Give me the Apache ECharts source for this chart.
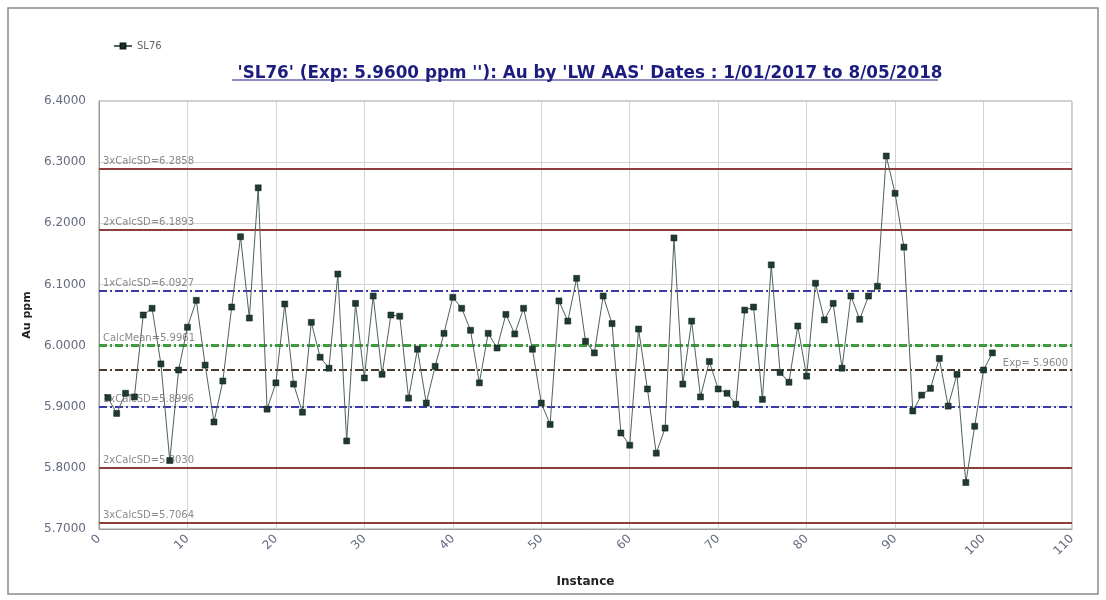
<!DOCTYPE html>
<html>
<head>
<meta charset="utf-8">
<script src="https://cdn.jsdelivr.net/npm/echarts@6/dist/echarts.min.js"></script>
<style>
  html, body { margin: 0; padding: 0; background: #ffffff; }
  #chart { width: 1106px; height: 600px; }
</style>
</head>
<body>
<div id="chart"></div>
<script>
// ---- data ----
const seriesName = 'SL76';
const titleText = "'SL76' (Exp: 5.9600 ppm ''): Au by 'LW AAS' Dates : 1/01/2017 to 8/05/2018";
const auValues = [
  5.915, 5.889, 5.922, 5.916, 6.050, 6.061, 5.970, 5.812, 5.960, 6.030,
  6.074, 5.968, 5.875, 5.942, 6.063, 6.178, 6.045, 6.258, 5.896, 5.939,
  6.068, 5.937, 5.891, 6.038, 5.981, 5.963, 6.117, 5.844, 6.069, 5.947,
  6.081, 5.953, 6.050, 6.048, 5.914, 5.994, 5.906, 5.966, 6.020, 6.079,
  6.061, 6.025, 5.939, 6.020, 5.996, 6.051, 6.019, 6.061, 5.994, 5.906,
  5.871, 6.073, 6.040, 6.110, 6.007, 5.988, 6.081, 6.036, 5.857, 5.837,
  6.027, 5.929, 5.824, 5.865, 6.176, 5.937, 6.040, 5.916, 5.974, 5.929,
  5.922, 5.904, 6.058, 6.063, 5.912, 6.132, 5.956, 5.940, 6.032, 5.950,
  6.102, 6.042, 6.069, 5.963, 6.081, 6.043, 6.081, 6.097, 6.310, 6.249,
  6.161, 5.893, 5.919, 5.930, 5.979, 5.901, 5.953, 5.776, 5.868, 5.960,
  5.988
];
const limitNames  = ['3xCalcSD', '2xCalcSD', '1xCalcSD', 'CalcMean', '1xCalcSD', '2xCalcSD', '3xCalcSD'];
const limitValues = [6.2858, 6.1893, 6.0927, 5.9961, 5.8996, 5.8030, 5.7064];
const limitKinds  = ['sd3', 'sd2', 'sd1', 'mean', 'sd1', 'sd2', 'sd3'];
const expName = 'Exp';
const expValue = 5.9600;
const yTicks = [5.7, 5.8, 5.9, 6.0, 6.1, 6.2, 6.3, 6.4];
const xTicks = [0, 10, 20, 30, 40, 50, 60, 70, 80, 90, 100, 110];

// ---- styles ----
const kindStyle = {
  sd3:  { color: '#8e3c3c', type: 'solid', width: 2 },
  sd2:  { color: '#8e3c3c', type: 'solid', width: 2 },
  sd1:  { color: '#3a3aa8', type: [8, 3, 2, 3], width: 2 },
  mean: { color: '#3f9a3f', type: [8, 3, 2, 3], width: 3 }
};
const labelColor = '#8a8a8a';
const font = 'DejaVu Sans, Verdana, sans-serif';

const points = auValues.map((v, i) => [i + 1, v]);

const markData = limitValues.map((v, i) => ({
  yAxis: v,
  lineStyle: kindStyle[limitKinds[i]],
  label: {
    show: true,
    position: 'insideStartTop',
    formatter: limitNames[i] + '=' + v.toFixed(4),
    color: labelColor,
    fontSize: 10,
    fontFamily: font,
    distance: [4, 2]
  }
}));
markData.push({
  yAxis: expValue,
  lineStyle: { color: '#4a3a2e', type: [8, 3, 2, 3], width: 2 },
  label: {
    show: true,
    position: 'insideEndTop',
    formatter: expName + '= ' + expValue.toFixed(4),
    color: labelColor,
    fontSize: 10,
    fontFamily: font,
    distance: [4, 2]
  }
});

const chart = echarts.init(document.getElementById('chart'), null, { renderer: 'canvas' });

const option = {
  backgroundColor: '#ffffff',
  animation: false,
  title: {
    text: titleText,
    left: 585,
    textAlign: 'center',
    top: 60,
    textStyle: { color: '#1c1c80', fontSize: 16.8, fontWeight: 'bold', fontFamily: font }
  },
  legend: {
    left: 108,
    top: 36,
    itemWidth: 18,
    itemHeight: 6,
    textStyle: { color: '#666', fontSize: 10, fontFamily: font },
    data: [seriesName]
  },
  grid: { left: 99, right: 34, top: 101, bottom: 71, show: true, borderColor: '#9a9a9a', borderWidth: 1 },
  xAxis: {
    type: 'value',
    min: xTicks[0],
    max: xTicks[xTicks.length - 1],
    interval: 10,
    name: 'Instance',
    nameLocation: 'middle',
    nameGap: 47,
    nameTextStyle: { color: '#222', fontSize: 12, fontWeight: 'bold', fontFamily: font },
    axisLine: { show: true, lineStyle: { color: '#9a9a9a' } },
    axisTick: { show: false },
    axisLabel: { rotate: 45, color: '#666a80', fontSize: 12, fontFamily: font, margin: 8 },
    splitLine: { show: true, lineStyle: { color: '#d4d4d4', width: 1 } }
  },
  yAxis: {
    type: 'value',
    min: yTicks[0],
    max: yTicks[yTicks.length - 1],
    interval: 0.1,
    name: 'Au ppm',
    nameLocation: 'middle',
    nameGap: 66,
    nameTextStyle: { color: '#222', fontSize: 11, fontWeight: 'bold', fontFamily: font },
    axisLine: { show: true, lineStyle: { color: '#9a9a9a' } },
    axisTick: { show: false },
    axisLabel: {
      color: '#666a80', fontSize: 12, fontFamily: font, margin: 13,
      formatter: v => v.toFixed(4)
    },
    splitLine: { show: true, lineStyle: { color: '#d4d4d4', width: 1 } }
  },
  graphic: [
    {
      type: 'rect',
      shape: { x: 8, y: 8, width: 1090, height: 586 },
      style: { fill: 'none', stroke: '#8a8a8a', lineWidth: 1.5 },
      silent: true
    },
    {
      type: 'line',
      shape: { x1: 232, y1: 80, x2: 938, y2: 80 },
      style: { stroke: '#1c1c80', lineWidth: 1 },
      silent: true
    }
  ],
  series: [
    {
      name: seriesName,
      type: 'line',
      data: points,
      symbol: 'rect',
      symbolSize: 6,
      showAllSymbol: true,
      lineStyle: { color: '#4f625c', width: 1 },
      itemStyle: { color: '#1e3a32', borderColor: '#0e1e18', borderWidth: 0.5 },
      z: 5,
      markLine: {
        silent: true,
        symbol: ['none', 'none'],
        data: markData,
        z: 3
      }
    }
  ]
};
chart.setOption(option);
</script>
</body>
</html>
